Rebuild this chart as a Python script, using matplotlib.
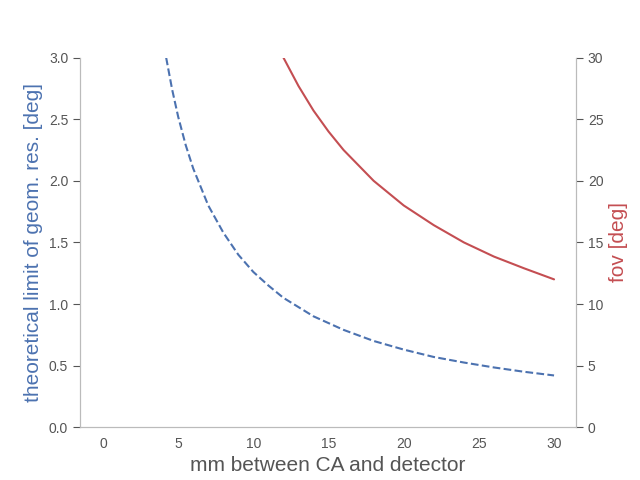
import matplotlib
matplotlib.use('Agg')
import matplotlib.pyplot as plt
import seaborn as sns

sns.set_style('white')
plt.rcParams['font.family'] = ['Liberation Sans', 'DejaVu Sans']

res_x = [4.2, 4.6, 5, 5.5, 6, 7, 8, 9, 10, 11, 12, 14, 16, 18, 20, 22, 24, 26, 28, 30]
res_y = [3.0, 2.74, 2.52, 2.29, 2.10, 1.80, 1.58, 1.40, 1.26, 1.15, 1.05, 0.90, 0.79, 0.70, 0.63, 0.57, 0.525, 0.485, 0.45, 0.42]
fov_x = [12, 13, 14, 15, 16, 18, 20, 22, 24, 26, 28, 30]
fov_y = [30, 27.7, 25.7, 24.0, 22.5, 20.0, 18.0, 16.4, 15.0, 13.85, 12.9, 12.0]

fig, ax = plt.subplots(figsize=(6.4, 4.8), dpi=100)
ax2 = ax.twinx()
ax.plot(res_x, res_y, '--', color='#4c72b0', lw=1.5)
ax2.plot(fov_x, fov_y, '-', color='#c44e52', lw=1.5)

ax.set_xlim(-1.53, 31.46)
ax.set_ylim(0, 3)
ax2.set_ylim(0, 30)
ax.set_xticks(range(0, 31, 5))
ax.set_yticks([0, 0.5, 1, 1.5, 2, 2.5, 3])
ax2.set_yticks(range(0, 31, 5))

for a in (ax, ax2):
    for s in a.spines.values():
        s.set_color('#bbbbbb')
    a.spines['top'].set_visible(False)
    a.tick_params(colors='#555555', labelsize=10)
ax.tick_params(axis='y', left=True, length=5, color='#555555')
ax2.tick_params(axis='y', right=True, length=5, color='#555555')

ax.set_xlabel('mm between CA and detector', fontsize=15, color='#555555')
ax.set_ylabel('theoretical limit of geom. res. [deg]', fontsize=15, color='#4c72b0')
ax2.set_ylabel('fov [deg]', fontsize=15, color='#c44e52')

fig.subplots_adjust(left=0.125, right=0.9, bottom=0.11, top=0.88)
fig.savefig('out.png')
